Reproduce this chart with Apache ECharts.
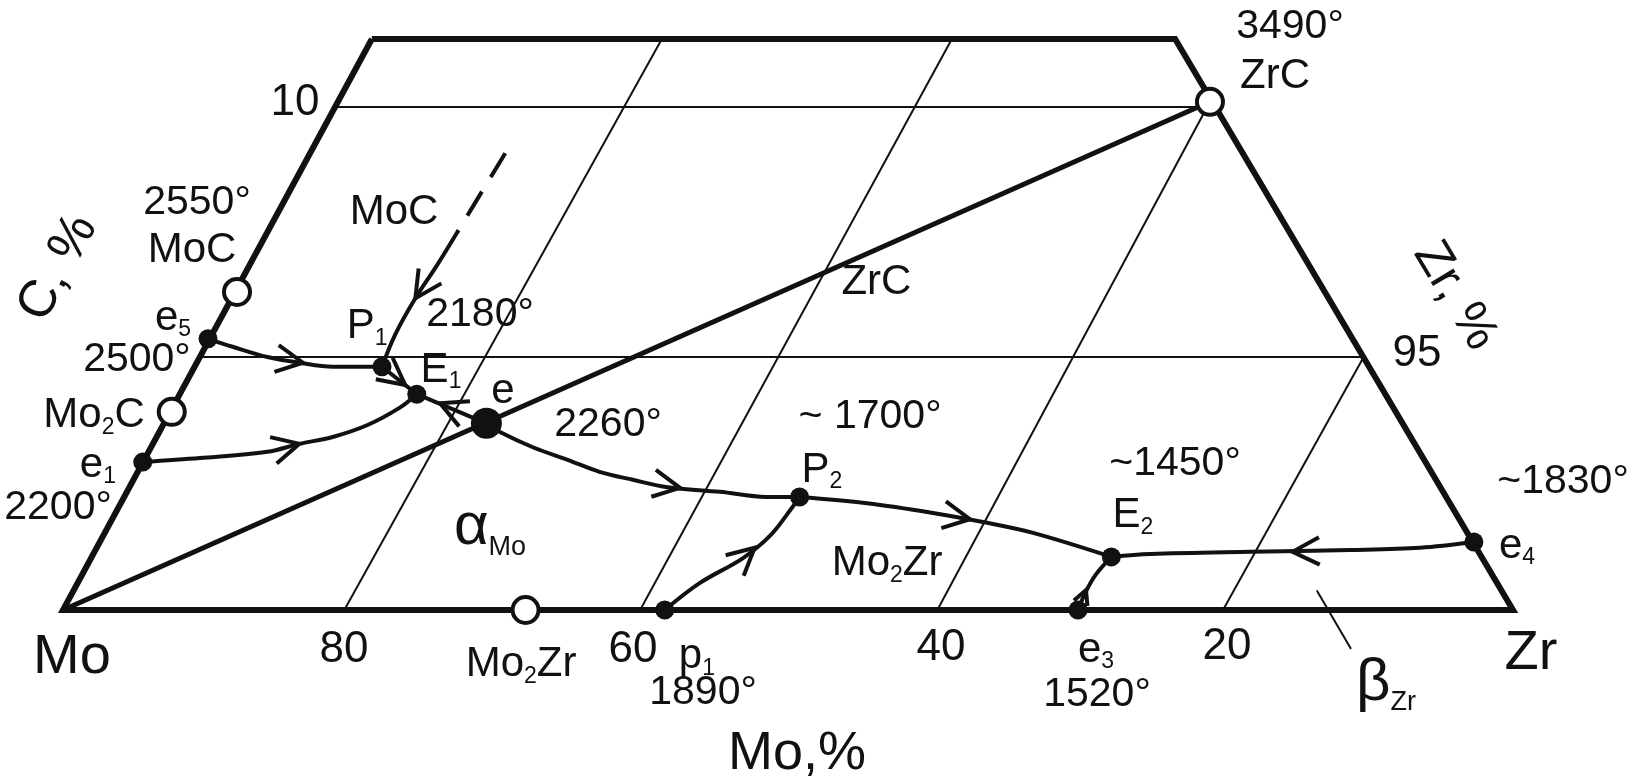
<!DOCTYPE html>
<html><head><meta charset="utf-8">
<script src="https://cdn.jsdelivr.net/npm/echarts@6/dist/echarts.min.js"></script>
<style>html,body{margin:0;padding:0;background:#fff}#c{width:1644px;height:784px}</style>
</head><body><div id="c"></div>
<script>
// Diagram coordinates: x runs along the Mo–Zr base (Mo corner = 100, Zr corner = 0),
// y is the height above the base (base = 0, top edge of the section = 100).
const outline = [[78.7,100],[23.3,100],[0,0],[100,0],[78.7,100]];
const isoLines = [
  [[80.6,0],[58.7,100]],
  [[60.2,0],[38.7,100]],
  [[39.7,0],[20.9,89.0]],
  [[20.0,0],[10.3,44.3]],
  [[81.2,88.1],[21.9,88.1]],
  [[90.55,44.3],[10.3,44.3]]
];
const tieLine = [[100,0],[20.9,89.0]];
const curveE5P1 = [[90.0,47.5],[88.3,46.1],[85.9,44.3],[83.7,43.3],[81.4,42.6],[78.0,42.6]];
const curveE1E1 = [[94.5,25.9],[90.55,26.6],[85.9,27.7],[83.7,29.1],[81.4,30.3],[79.0,32.4],[76.8,35.4],[75.6,37.8]];
const curveP1E1 = [[78.0,42.6],[75.6,37.8]];
const curveEE1 = [[75.6,37.8],[70.8,32.7]];
const curveEP2 = [[70.8,32.7],[69.9,31.2],[67.6,28.5],[65.2,26.3],[63.0,24.2],[60.7,22.8],[58.3,21.5],[54.7,20.7],[51.5,19.8],[49.2,19.8]];
const curveP2E2 = [[49.2,19.8],[44.55,18.7],[40.0,17.0],[36.55,15.4],[33.1,13.5],[27.7,9.3]];
const curvep1P2 = [[58.5,0],[56.1,4.7],[53.1,9.1],[51.2,13.1],[49.7,18.0],[49.2,19.8]];
const curvee3E2 = [[30.0,0],[29.5,3.0],[28.8,6.1],[27.7,9.3]];
const curvee4E2 = [[2.7,11.9],[6.4,10.9],[11.2,10.5],[18.1,10.2],[25.0,9.8],[27.7,9.3]];
const curveMoCdash = [[69.5,80.0],[72.8,66.2]];
const curveMoC = [[72.8,66.2],[74.2,60.4],[75.7,54.6],[77.1,48.2],[78.0,42.6]];
const betaLeader = [[13.5,3.3],[11.2,-6.7]];

const compounds = [[88.0,55.7],[92.5,34.7],[68.1,0],[20.9,89.0]];
const invariantPts = [[90.0,47.5],[94.5,25.9],[78.0,42.6],[75.6,37.8],[49.2,19.8],[58.5,0],[27.7,9.3],[30.0,0],[2.7,11.9]];
const eutecticE = [[70.8,32.7]];

// arrows: [tip, point behind the tip on the same line]
const arrows = [
  [[83.45,43.3],[85.9,44.3]],
  [[83.7,29.1],[85.9,27.7]],
  [[75.7,54.6],[74.2,60.4]],
  [[76.4,39.4],[78.0,42.6]],
  [[74.0,36.2],[70.8,32.7]],
  [[57.45,21.4],[60.7,22.8]],
  [[52.3,10.9],[53.1,9.1]],
  [[37.45,15.9],[40.0,17.0]],
  [[29.45,3.5],[30.0,0]],
  [[15.2,10.2],[11.2,10.5]]
];

const tickLabels = [['10',84.0,88.8],['95',6.62,44.8],['80',80.62,-7.0],['60',60.69,-7.0],['40',39.45,-6.7],['20',19.72,-6.5]];
const tempLabels = [['2550°',90.76,71.3],['2500°',94.9,43.8],['2200°',100.34,17.9],['2180°',71.24,51.7],['2260°',62.41,32.4],['~ 1700°',44.34,33.8],['~1450°',23.31,25.7],['~1830°',-3.45,22.4],['1890°',55.86,-14.5],['1520°',28.69,-14.9],['3490°',15.38,102.1]];
const pointLabels = [['e{s|5}',92.41,51.1],['e{s|1}',97.59,25.4],['P{s|1}',79.03,49.6],['E{s|1}',73.93,42.0],['e',69.66,38.2],['P{s|2}',47.66,24.5],['E{s|2}',26.21,16.5],['e{s|3}',28.76,-7.0],['e{s|4}',-0.28,11.2],['p{s|1}',56.28,-8.2]];
const phaseLabels = [['MoC',91.1,63.0],['Mo{s|2}C',97.86,34.0],['MoC',77.17,69.7],['Mo{s|2}Zr',68.41,-9.6],['Mo{s|2}Zr',43.17,8.1],['ZrC',16.41,93.5],['ZrC',43.9,57.4]];
const greekLabels = [['α{g|Mo}',70.55,14.4],['β{g|Zr}',8.76,-12.8]];
const cornerLabels = [['Mo',99.38,-8.4],['Zr',-1.24,-7.7]];
const axisNameBase = [['Mo,%',49.38,-25.2]];
const axisNameLeft = [['C, %',100.34,59.9]];
const axisNameRight = [['Zr, %',4.0,55.0]];

const INK = '#111111';
const FONT = '"Liberation Sans", Arial, sans-serif';

function lineSeries(data, width, extra) {
  return Object.assign({type:'line', data, symbol:'none', silent:true, animation:false,
    lineStyle:{color:INK, width, cap:'round', join:'round'}}, extra || {});
}
function smoothSeries(data) { return lineSeries(data, 4, {smooth:0.35, z:4}); }
function labelSeries(list, fontSize, opts) {
  opts = opts || {};
  return {type:'scatter', symbolSize:0, silent:true, z:10, itemStyle:{opacity:1},
    data: list.map(l => ({name:l[0], value:[l[1], l[2]]})),
    label:{show:true, position:'inside', formatter:p => p.name, color:INK, opacity:1,
      fontFamily:FONT, fontSize, lineHeight:Math.round(fontSize*1.1), rotate:opts.rotate || 0,
      rich:{
        s:{fontSize:Math.round(fontSize*0.55), fontFamily:FONT, color:INK, verticalAlign:'bottom', lineHeight:10},
        g:{fontSize:27, fontFamily:FONT, color:INK, verticalAlign:'bottom', lineHeight:16}
      }}};
}

const series = [];
isoLines.forEach(l => series.push(lineSeries(l, 2, {z:2, lineStyle:{color:INK, width:2, cap:'butt'}})));
series.push(lineSeries(outline, 6, {z:3, lineStyle:{color:INK, width:6, join:'miter', cap:'butt'}}));
series.push(lineSeries(tieLine, 5, {z:3}));
[curveE5P1, curveE1E1, curveP1E1, curveEE1, curveEP2, curveP2E2, curvep1P2, curvee3E2, curvee4E2, curveMoC]
  .forEach(c => series.push(smoothSeries(c)));
series.push(lineSeries(curveMoCdash, 4, {z:4, lineStyle:{color:INK, width:4, type:[28,17], cap:'butt'}}));
series.push(lineSeries(betaLeader, 2, {z:4}));
series.push({type:'custom', coordinateSystem:'cartesian2d', silent:true, z:5,
  data: arrows.map(a => [a[0][0], a[0][1], a[1][0], a[1][1]]),
  encode:{x:[0,2], y:[1,3]},
  renderItem(params, api) {
    const tip = api.coord([api.value(0), api.value(1)]);
    const back = api.coord([api.value(2), api.value(3)]);
    const ang = Math.atan2(tip[1]-back[1], tip[0]-back[0]);
    const L = params.dataIndex === 8 ? 16 : 30, h = 27*Math.PI/180;
    const p1 = [tip[0]-L*Math.cos(ang-h), tip[1]-L*Math.sin(ang-h)];
    const p2 = [tip[0]-L*Math.cos(ang+h), tip[1]-L*Math.sin(ang+h)];
    return {type:'polyline', shape:{points:[p1, tip, p2]},
      style:{stroke:INK, lineWidth:4, fill:null, lineJoin:'miter'}};
  }});
series.push({type:'scatter', data:compounds, symbol:'circle', symbolSize:26, silent:true, z:6,
  itemStyle:{color:'#fff', borderColor:INK, borderWidth:4, opacity:1}});
series.push({type:'scatter', data:invariantPts, symbol:'circle', symbolSize:19, silent:true, z:6,
  itemStyle:{color:INK, opacity:1}});
series.push({type:'scatter', data:eutecticE, symbol:'circle', symbolSize:31, silent:true, z:6,
  itemStyle:{color:INK, opacity:1}});
series.push(labelSeries(tickLabels, 44));
series.push(labelSeries(tempLabels, 41));
series.push(labelSeries(pointLabels, 42));
series.push(labelSeries(phaseLabels, 42));
series.push(labelSeries(greekLabels, 60));
series.push(labelSeries(cornerLabels, 56));
series.push(labelSeries(axisNameBase, 54));
series.push(labelSeries(axisNameLeft, 52, {rotate:61.6}));
series.push(labelSeries(axisNameRight, 50, {rotate:-59}));

const chart = echarts.init(document.getElementById('c'), null, {renderer:'canvas'});
chart.setOption({
  animation:false,
  backgroundColor:'#fff',
  grid:{left:0, right:0, top:0, bottom:0},
  xAxis:{type:'value', inverse:true, min:-9.034, max:104.345, show:false},
  yAxis:{type:'value', min:-30.473, max:106.83, show:false},
  series
});
</script></body></html>
